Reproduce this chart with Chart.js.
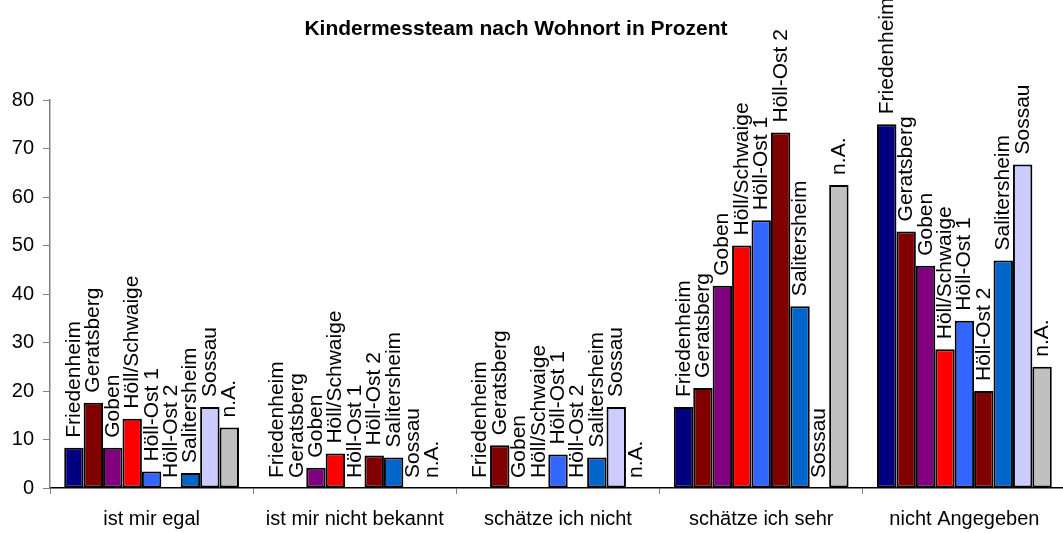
<!DOCTYPE html>
<html>
<head>
<meta charset="utf-8">
<script src="https://cdn.jsdelivr.net/npm/chart.js@4"></script>
<style>
  html, body { margin: 0; padding: 0; background: #fff; overflow: hidden; }
</style>
</head>
<body>
<canvas id="c" width="1070" height="533"></canvas>
<script>
const categories = ["ist mir egal", "ist mir nicht bekannt", "schätze ich nicht", "schätze ich sehr", "nicht Angegeben"];
const places = ["Friedenheim", "Geratsberg", "Goben", "Höll/Schwaige", "Höll-Ost 1", "Höll-Ost 2", "Salitersheim", "Sossau", "n.A."];
const colors = ["#000080", "#800000", "#800080", "#FF0000", "#3366FF", "#800000", "#0066CC", "#CCCCFF", "#C0C0C0"];

// one array per Wohnort, values per category (percent)
const friedenheim  = [8.3, 0, 0, 16.7, 75.0];
const geratsberg   = [17.6, 0, 8.8, 20.6, 52.9];
const goben        = [8.3, 4.2, 0, 41.7, 45.8];
const hoellSchwaige= [14.3, 7.1, 0, 50.0, 28.6];
const hoellOst1    = [3.4, 0, 6.9, 55.2, 34.5];
const hoellOst2    = [0, 6.7, 0, 73.3, 20.0];
const salitersheim = [3.1, 6.3, 6.3, 37.5, 46.9];
const sossau       = [16.7, 0, 16.7, 0, 66.7];
const nA           = [12.5, 0, 0, 62.5, 25.0];
const series = [friedenheim, geratsberg, goben, hoellSchwaige, hoellOst1, hoellOst2, salitersheim, sossau, nA];

const yTicks = [0, 10, 20, 30, 40, 50, 60, 70, 80];

const FONT = "'Liberation Sans', Arial, sans-serif";

// names written upwards on top of each bar
const barLabels = {
  id: 'barLabels',
  afterDatasetsDraw(chart) {
    const ctx = chart.ctx;
    ctx.save();
    ctx.font = "21px " + FONT;
    ctx.fillStyle = "#000";
    ctx.textAlign = "left";
    ctx.textBaseline = "alphabetic";
    chart.data.datasets.forEach((ds, i) => {
      chart.getDatasetMeta(i).data.forEach(el => {
        ctx.save();
        ctx.translate(el.x + 6, el.y - 10);
        ctx.rotate(-Math.PI / 2);
        ctx.fillText(ds.label, 0, 0);
        ctx.restore();
      });
    });
    ctx.restore();
  }
};

const titlePlugin = {
  id: 'titleText',
  afterDraw(chart) {
    const ctx = chart.ctx;
    ctx.save();
    ctx.font = "bold 21px " + FONT;
    ctx.fillStyle = "#000";
    ctx.textAlign = "center";
    ctx.textBaseline = "alphabetic";
    ctx.fillText("Kindermessteam nach Wohnort in Prozent", 516, 35);
    ctx.restore();
  }
};

new Chart(document.getElementById('c'), {
  type: 'bar',
  data: {
    labels: categories,
    datasets: places.map((p, i) => ({
      label: p,
      data: series[i],
      backgroundColor: colors[i],
      borderColor: "#000",
      borderWidth: 2,
      borderSkipped: false,
      categoryPercentage: 0.86,
      barPercentage: 1.0
    }))
  },
  options: {
    responsive: false,
    animation: false,
    devicePixelRatio: 1,
    layout: { padding: { top: 100, right: 4, left: 0, bottom: 0 } },
    plugins: {
      legend: { display: false },
      title: { display: false },
      tooltip: { enabled: false }
    },
    scales: {
      x: {
        grid: { display: true, drawOnChartArea: false, offset: true, tickLength: 6, color: "#808080" },
        border: { display: true, color: "#000", width: 1.5 },
        ticks: { color: "#000", font: { family: FONT, size: 20 }, padding: 13, maxRotation: 0 },
        afterFit(scale) { scale.height = 45; }
      },
      y: {
        min: 0,
        max: 80,
        afterBuildTicks(scale) { scale.ticks = yTicks.map(v => ({ value: v })); },
        grid: { display: true, drawOnChartArea: false, tickLength: 7, color: "#808080" },
        border: { display: true, color: "#808080", width: 1.5 },
        ticks: { color: "#000", font: { family: FONT, size: 20 }, padding: 9 },
        afterFit(scale) { scale.width = 50; }
      }
    }
  },
  plugins: [barLabels, titlePlugin]
});
</script>
</body>
</html>
